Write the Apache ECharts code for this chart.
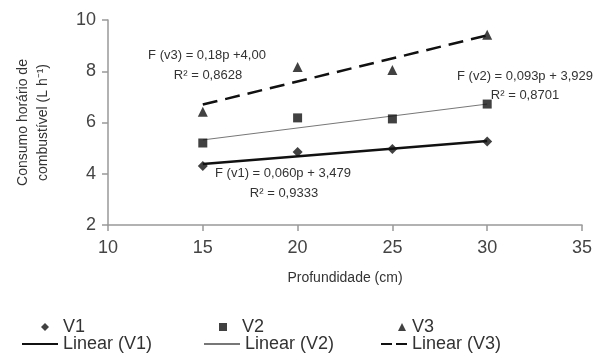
<!DOCTYPE html>
<html>
<head>
<meta charset="utf-8">
<script src="https://cdn.jsdelivr.net/npm/echarts@6/dist/echarts.min.js"></script>
<style>
  html, body { margin: 0; padding: 0; background: #fff; }
  #chart { width: 598px; height: 353px; }
</style>
</head>
<body>
<div id="chart"></div>
<script>
// === DATA ===
const depths = [15, 20, 25, 30];
const v1 = [4.30, 4.85, 4.97, 5.26];
const v2 = [5.20, 6.18, 6.14, 6.72];
const v3 = [6.42, 8.17, 8.05, 9.42];
// trend line ends
const trendX = [15, 30];
const trendV1 = [4.38, 5.28];
const trendV2 = [5.32, 6.72];
const trendV3 = [6.70, 9.40];
const xTicks = [10, 15, 20, 25, 30, 35];
const yTicks = [2, 4, 6, 8, 10];

const FONT = 'Liberation Sans, Arial, sans-serif';
const pairs = (xs, ys) => xs.map((x, i) => [x, ys[i]]);

const chart = echarts.init(document.getElementById('chart'));

// legend helper: one legend per item so columns sit where the reference has them
function leg(name, left, top, w, h, padLeft, isLine) {
    const l = {
        data: [name], left: left, top: top,
        itemWidth: w, itemHeight: h, itemGap: 0,
        symbolKeepAspect: true,
        selectedMode: false,
        textStyle: { fontFamily: FONT, fontSize: 18, color: '#333', padding: [0, 0, 0, padLeft] }
    };
    if (isLine) l.itemStyle = { opacity: 0 };
    return l;
}

const legends = [
    leg('V1', 36, 313, 8, 8, 9),
    leg('V2', 214, 313, 8, 8, 10),
    leg('V3', 393, 313, 8, 8, 1),
    leg('Linear (V1)', 16, 330, 36, 14, 0, true),
    leg('Linear (V2)', 198, 330, 36, 14, 0, true),
    leg('Linear (V3)', 375, 330, 26, 14, 0, true)
];
legends[5].lineStyle = { type: [11, 4] };

const option = {
    animation: false,
    backgroundColor: '#fff',
    grid: { left: 108, right: 16, top: 20, bottom: 128 },
    xAxis: {
        type: 'value', min: xTicks[0], max: xTicks[xTicks.length - 1], interval: 5,
        name: 'Profundidade (cm)', nameLocation: 'middle', nameGap: 46,
        nameTextStyle: { fontFamily: FONT, fontSize: 14, color: '#333' },
        axisLine: { lineStyle: { color: '#999', width: 1.5 } },
        axisTick: { show: true, length: 6, lineStyle: { color: '#999', width: 1.5 } },
        axisLabel: { fontFamily: FONT, fontSize: 18, color: '#444', margin: 14 },
        splitLine: { show: false }
    },
    yAxis: {
        type: 'value', min: yTicks[0], max: yTicks[yTicks.length - 1], interval: 2,
        name: 'Consumo horário de\ncombustível (L h⁻¹)', nameLocation: 'middle', nameGap: 55,
        nameRotate: 90,
        nameTextStyle: { fontFamily: FONT, fontSize: 14, color: '#333', lineHeight: 20 },
        axisLine: { show: true, lineStyle: { color: '#999', width: 1.5 } },
        axisTick: { show: true, length: 6, lineStyle: { color: '#999', width: 1.5 } },
        axisLabel: { fontFamily: FONT, fontSize: 18, color: '#444', margin: 12 },
        splitLine: { show: false }
    },
    legend: legends,
    series: [
        {
            name: 'Linear (V1)', type: 'line', data: pairs(trendX, trendV1),
            symbol: 'none', itemStyle: { color: '#111' },
            lineStyle: { color: '#111', width: 2.5 }, z: 2
        },
        {
            name: 'Linear (V2)', type: 'line', data: pairs(trendX, trendV2),
            symbol: 'none', itemStyle: { color: '#777' },
            lineStyle: { color: '#777', width: 1 }, z: 2
        },
        {
            name: 'Linear (V3)', type: 'line', data: pairs(trendX, trendV3),
            symbol: 'none', itemStyle: { color: '#111' },
            lineStyle: { color: '#111', width: 2.5, type: [15, 8] }, z: 2
        },
        {
            name: 'V1', type: 'scatter', data: pairs(depths, v1),
            symbol: 'diamond', symbolSize: 10, itemStyle: { color: '#111' }, z: 3
        },
        {
            name: 'V2', type: 'scatter', data: pairs(depths, v2),
            symbol: 'rect', symbolSize: 9, itemStyle: { color: '#111' }, z: 3
        },
        {
            name: 'V3', type: 'scatter', data: pairs(depths, v3),
            symbol: 'triangle', symbolSize: 10, itemStyle: { color: '#111' }, z: 3
        }
    ],
    graphic: [
        { type: 'text', x: 207, y: 55, style: { text: 'F (v3) = 0,18p +4,00', fontFamily: FONT, fontSize: 13, fill: '#333', align: 'center', verticalAlign: 'middle' } },
        { type: 'text', x: 208, y: 75, style: { text: 'R² = 0,8628', fontFamily: FONT, fontSize: 13, fill: '#333', align: 'center', verticalAlign: 'middle' } },
        { type: 'text', x: 525, y: 76, style: { text: 'F (v2) = 0,093p + 3,929', fontFamily: FONT, fontSize: 13, fill: '#333', align: 'center', verticalAlign: 'middle' } },
        { type: 'text', x: 525, y: 95, style: { text: 'R² = 0,8701', fontFamily: FONT, fontSize: 13, fill: '#333', align: 'center', verticalAlign: 'middle' } },
        { type: 'text', x: 283, y: 173, style: { text: 'F (v1) = 0,060p + 3,479', fontFamily: FONT, fontSize: 13, fill: '#333', align: 'center', verticalAlign: 'middle' } },
        { type: 'text', x: 284, y: 193, style: { text: 'R² = 0,9333', fontFamily: FONT, fontSize: 13, fill: '#333', align: 'center', verticalAlign: 'middle' } }
    ]
};

chart.setOption(option);
</script>
</body>
</html>
